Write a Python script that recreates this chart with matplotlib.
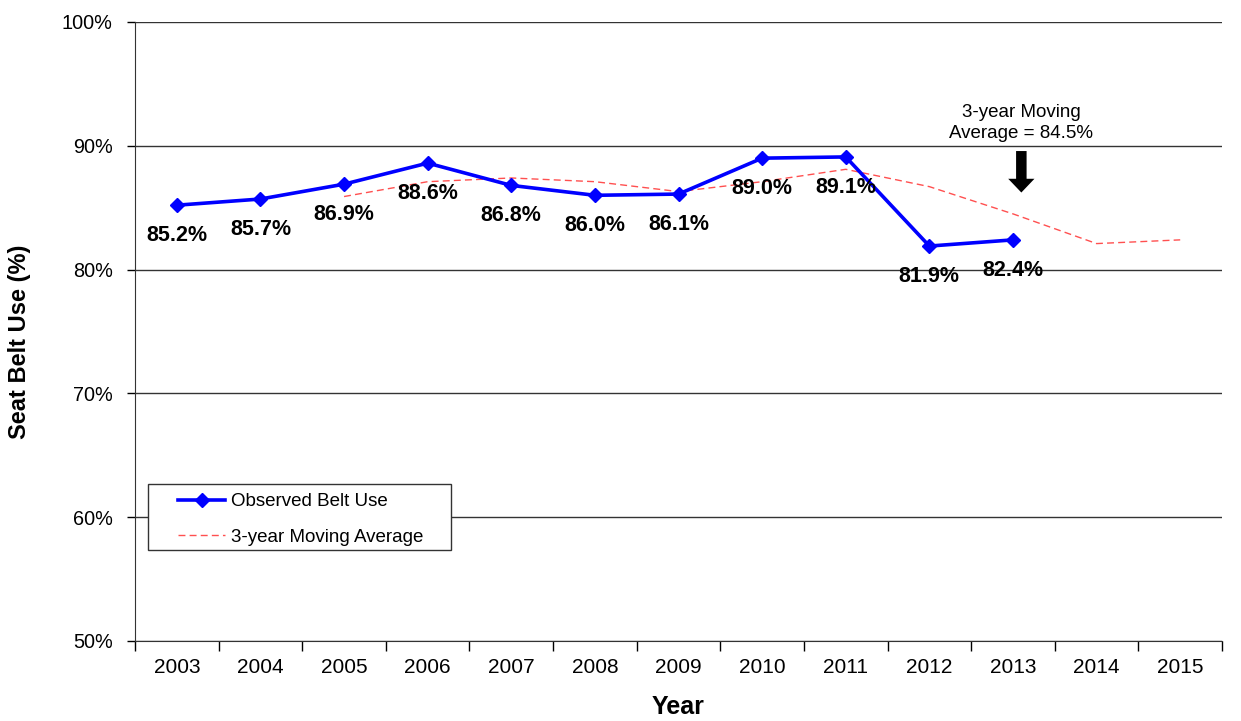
import matplotlib
matplotlib.use("Agg")
import matplotlib.pyplot as plt
from matplotlib.patches import Rectangle
from matplotlib.ticker import FixedLocator, FuncFormatter

plt.rcParams["font.family"] = ["Liberation Sans", "DejaVu Sans"]

YEARS = ["2003", "2004", "2005", "2006", "2007", "2008", "2009",
         "2010", "2011", "2012", "2013", "2014", "2015"]

OBSERVED = [85.2, 85.7, 86.9, 88.6, 86.8, 86.0, 86.1, 89.0, 89.1, 81.9, 82.4]
OBSERVED_LABELS = ["85.2%", "85.7%", "86.9%", "88.6%", "86.8%", "86.0%",
                   "86.1%", "89.0%", "89.1%", "81.9%", "82.4%"]

# moving average starts in 2005
MOVING_AVG = [85.9, 87.1, 87.4, 87.1, 86.3, 87.1, 88.1, 86.7, 84.5, 82.1, 82.4]

ANNOTATION = "3-year Moving\nAverage = 84.5%"


fig = plt.figure(figsize=(12.41, 7.21), dpi=100)
ax = fig.add_axes([0.1088, 0.111, 0.8759, 0.8585])

x_obs = list(range(len(OBSERVED)))
x_avg = list(range(2, 2 + len(MOVING_AVG)))

ax.plot(x_obs, OBSERVED, color="#0000ff", linewidth=2.6, marker="D",
        markersize=7.5, label="Observed Belt Use", zorder=4)
ax.plot(x_avg, MOVING_AVG, color="#ff5050", linewidth=1.0,
        dashes=(5, 3), label="3-year Moving Average", zorder=3)

for x, y, text in zip(x_obs, OBSERVED, OBSERVED_LABELS):
    ax.annotate(text, (x, y), xytext=(0, -22), textcoords="offset points",
                ha="center", va="center", fontsize=15.5, fontweight="bold",
                zorder=5)

# annotation with block arrow
ax.text(10.1, 91.85, ANNOTATION, ha="center", va="center", fontsize=13.5,
        linespacing=1.25)
ax.annotate("", xy=(10.1, 86.0), xytext=(10.1, 89.8),
            arrowprops=dict(arrowstyle="simple,head_length=0.55,head_width=1.05,tail_width=0.42",
                            mutation_scale=18, color="black", lw=0))

ax.set_xlim(-0.5, len(YEARS) - 0.5)
ax.set_ylim(50, 100)

ax.xaxis.set_major_locator(FixedLocator([i - 0.5 for i in range(len(YEARS) + 1)]))
ax.xaxis.set_minor_locator(FixedLocator(list(range(len(YEARS)))))
ax.set_xticklabels([], minor=False)
ax.set_xticklabels(YEARS, minor=True, fontsize=15)
ax.tick_params(axis="x", which="major", direction="out", length=7, width=1)
ax.tick_params(axis="x", which="minor", length=0, pad=12)

ax.set_yticks([50, 60, 70, 80, 90, 100])
ax.yaxis.set_major_formatter(FuncFormatter(lambda v, p: f"{int(v)}%"))
ax.tick_params(axis="y", direction="out", length=6, width=1, pad=10, labelsize=14.3)

ax.grid(axis="y", color="#333333", linewidth=1.0)
ax.set_axisbelow(True)
for side in ["top", "right"]:
    ax.spines[side].set_visible(False)
ax.spines["left"].set_color("#333333")
ax.spines["bottom"].set_color("#333333")

ax.set_xlabel("Year", fontsize=18, fontweight="bold")
ax.set_ylabel("Seat Belt Use (%)", fontsize=17, fontweight="bold")
ax.xaxis.set_label_coords(0.5, -0.088)
ax.yaxis.set_label_coords(-0.096, 0.483)

# legend frame drawn separately: wide side padding, tight top/bottom
ax.add_patch(Rectangle((0.012, 0.147), 0.2787, 0.1066, transform=ax.transAxes,
                       facecolor="white", edgecolor="#333333", linewidth=1.0,
                       zorder=6))
leg = ax.legend(loc="upper left", bbox_to_anchor=(0.0396, 0.239), fontsize=13.5,
                frameon=False, handlelength=2.5, handletextpad=0.3,
                borderpad=0, labelspacing=1.0, borderaxespad=0)
leg.set_zorder(7)

fig.savefig("out.png", dpi=100)
